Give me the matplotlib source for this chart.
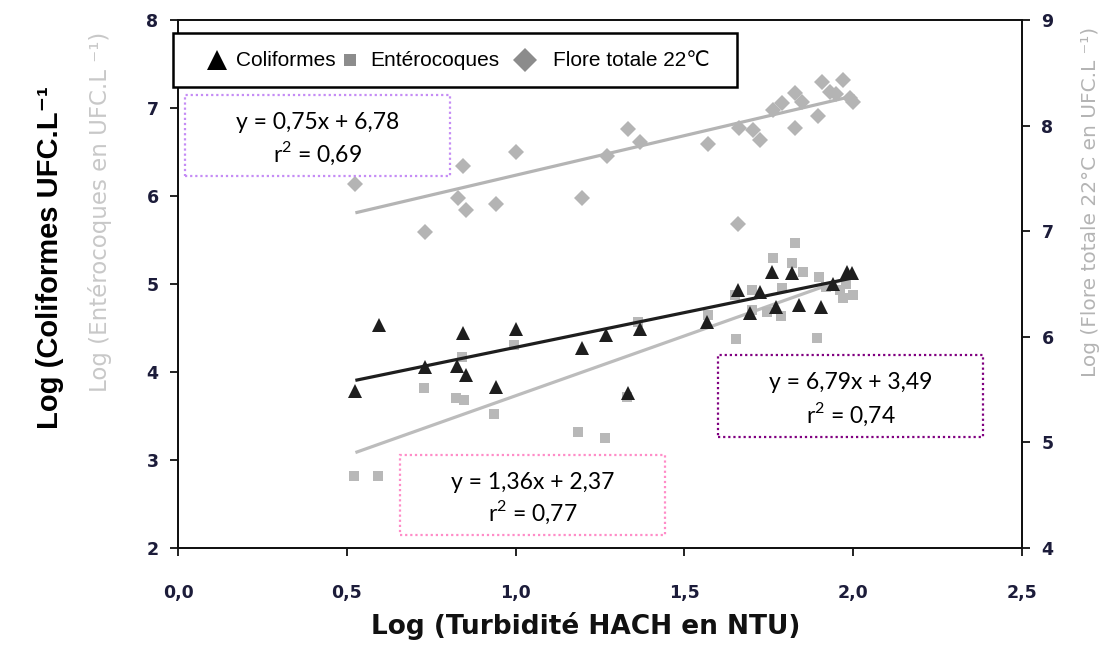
import matplotlib
matplotlib.use("Agg")
import matplotlib.pyplot as plt
from matplotlib.lines import Line2D
from matplotlib.patches import Rectangle
import numpy as np

# ---- data ----
coli_x = [0.524, 0.595, 0.732, 0.826, 0.853, 0.844, 0.942, 1.001, 1.197, 1.268, 1.333, 1.368,
          1.567, 1.659, 1.694, 1.724, 1.759, 1.771, 1.820, 1.840, 1.905, 1.940, 1.982, 1.995]
coli_y = [3.78, 4.53, 4.06, 4.07, 3.97, 4.44, 3.83, 4.49, 4.27, 4.42, 3.76, 4.49,
          4.57, 4.93, 4.67, 4.91, 5.14, 4.74, 5.12, 4.76, 4.74, 5.00, 5.14, 5.12]

ent_x = [0.521, 0.592, 0.729, 0.823, 0.847, 0.841, 0.936, 0.995, 1.185, 1.265, 1.330, 1.363,
         1.570, 1.650, 1.653, 1.700, 1.700, 1.745, 1.762, 1.786, 1.790, 1.820, 1.828, 1.850,
         1.893, 1.900, 1.920, 1.960, 1.970, 2.000, 1.980]
ent_y = [2.82, 2.82, 3.82, 3.71, 3.68, 4.17, 3.52, 4.31, 3.32, 3.25, 3.72, 4.57,
         4.65, 4.88, 4.38, 4.93, 4.70, 4.68, 5.30, 4.64, 4.95, 5.24, 5.47, 5.14,
         4.39, 5.08, 4.97, 4.93, 4.84, 4.87, 5.00]

flore_x = [0.524, 0.732, 0.829, 0.844, 0.853, 0.942, 1.001, 1.197, 1.271, 1.333, 1.368, 1.570,
           1.659, 1.662, 1.703, 1.724, 1.762, 1.789, 1.828, 1.848, 1.828, 1.896, 1.908, 1.931,
           1.970, 1.990, 2.000, 1.950]
flore_y = [7.45, 6.99, 7.31, 7.62, 7.20, 7.26, 7.75, 7.31, 7.71, 7.97, 7.84, 7.83,
           7.07, 7.98, 7.96, 7.86, 8.15, 8.21, 8.31, 8.22, 7.98, 8.09, 8.41, 8.32,
           8.43, 8.26, 8.22, 8.30]

# regression lines (slope, intercept)
coli_fit = (0.79, 3.49)
ent_fit = (1.36, 2.37)
flore_fit = (0.75, 6.78)
fit_range = (0.53, 2.0)

eq_flore = ["y = 0,75x + 6,78", "0,69"]
eq_ent = ["y = 1,36x + 2,37", "0,77"]
eq_coli = ["y = 6,79x + 3,49", "0,74"]

legend_labels = ["Coliformes", "Entérocoques", "Flore totale 22℃"]

x_ticks = [0.0, 0.5, 1.0, 1.5, 2.0, 2.5]
x_ticklabels = ["0,0", "0,5", "1,0", "1,5", "2,0", "2,5"]
yl_ticks = [2, 3, 4, 5, 6, 7, 8]
yr_ticks = [4, 5, 6, 7, 8, 9]

plt.rcParams["mathtext.fontset"] = "custom"
plt.rcParams["mathtext.rm"] = "Lato"

# ---- figure ----
W, H = 1116, 657
fig = plt.figure(figsize=(W / 100, H / 100), dpi=100)
L, R, T, B = 178, 1022, 20, 548
ax = fig.add_axes([L / W, 1 - B / H, (R - L) / W, (B - T) / H])
ax2 = ax.twinx()


def fx(px):
    return px / W


def fy(py):
    return 1 - py / H


tick_color = "#1c1c3a"
ax.set_xlim(0, 2.5)
ax.set_ylim(2, 8)
ax2.set_ylim(4, 9)
ax.set_xticks(x_ticks)
ax.set_xticklabels(x_ticklabels)
ax.set_yticks(yl_ticks)
ax2.set_yticks(yr_ticks)
for a in (ax, ax2):
    for s in a.spines.values():
        s.set_linewidth(1.3)
        s.set_color("#111111")
ax.tick_params(axis="both", direction="out", length=6, width=1.3, colors="#111111",
               labelcolor=tick_color, labelsize=12.5, pad=8)
ax2.tick_params(axis="y", direction="out", length=6, width=1.3, colors="#111111",
                labelcolor=tick_color, labelsize=12.5, pad=8)
for lab in ax.get_xticklabels() + ax.get_yticklabels() + ax2.get_yticklabels():
    lab.set_fontweight("bold")
ax.tick_params(axis="x", pad=20)

xs = np.array(fit_range)
# flore (right axis)
ax2.plot(xs, flore_fit[0] * xs + flore_fit[1], color="#b4b4b4", lw=2.3, zorder=2)
ax2.plot(flore_x, flore_y, linestyle="none", marker="D", markersize=8.5,
         color="#b4b4b4", markeredgewidth=0, zorder=3)
# enterocoques
ax.plot(xs, ent_fit[0] * xs + ent_fit[1], color="#bcbcbc", lw=2.3, zorder=2)
ax.plot(ent_x, ent_y, linestyle="none", marker="s", markersize=7.5,
        color="#b8b8b8", markeredgewidth=0, zorder=3)
# coliformes
ax.plot(coli_x, coli_y, linestyle="none", marker="^", markersize=10,
        color="#1e1e1e", markeredgewidth=0, zorder=4)
ax.plot(xs, coli_fit[0] * xs + coli_fit[1], color="#1e1e1e", lw=2.3, zorder=5)
ax.set_zorder(ax2.get_zorder() + 1)
ax.patch.set_visible(False)

# ---- axis labels ----
fig.text(fx(586), fy(626), "Log (Turbidité HACH en NTU)", fontsize=19, fontweight="bold",
         color="#111111", ha="center", va="center")
fig.text(fx(50), fy(258), "Log (Coliformes UFC.L⁻¹",
         rotation=90, ha="center", va="center", fontsize=21, fontweight="bold",
         family=["Liberation Sans", "DejaVu Sans"], color="#000000")
fig.text(fx(100), fy(212), "Log (Entérocoques en UFC.L ⁻¹)",
         rotation=90, ha="center", va="center", fontsize=16.5,
         color="#c8c8c8")
fig.text(fx(1090), fy(202), "Log (Flore totale 22°C en UFC.L ⁻¹)",
         rotation=90, ha="center", va="center", fontsize=14.5,
         color="#b4b4b4")

# ---- legend (drawn as a framed key) ----
fig.add_artist(Rectangle((fx(173), fy(87)), (737 - 173) / W, (87 - 33) / H,
                         transform=fig.transFigure, facecolor="white",
                         edgecolor="#000000", linewidth=1.8, zorder=30))
key_markers = [("^", 15, "#000000", 217), ("s", 9, "#8c8c8c", 350), ("D", 12, "#8c8c8c", 525)]
key_text_x = [236, 370, 553]
for (mk, ms, col, px), lab, tx in zip(key_markers, legend_labels, key_text_x):
    fig.add_artist(Line2D([fx(px)], [fy(60)], transform=fig.transFigure, linestyle="none",
                          marker=mk, markersize=ms, color=col, markeredgewidth=0, zorder=31))
    fig.text(fx(tx), fy(60), lab, ha="left", va="center", fontsize=15,
             family=["Liberation Sans", "DejaVu Sans"], color="#000000", zorder=31)

# ---- equation boxes ----
def eq_box(x0, y0, x1, y1, color, lines):
    rect = Rectangle((fx(x0), fy(y1)), (x1 - x0) / W, (y1 - y0) / H,
                     transform=fig.transFigure, fill=True, facecolor="white",
                     edgecolor=color, linestyle=(0, (1, 1.3)), linewidth=1.6, zorder=20)
    fig.add_artist(rect)
    cx = fx((x0 + x1) / 2)
    fig.text(cx, fy(y0 + 0.34 * (y1 - y0)), lines[0], ha="center", va="center",
             fontsize=16.5, family="Lato", zorder=21)
    fig.text(cx, fy(y0 + 0.72 * (y1 - y0)), "r$^2$ = " + lines[1], ha="center",
             va="center", fontsize=16.5, family="Lato", zorder=21)

eq_box(185, 95, 450, 176, "#c58cf5", eq_flore)
eq_box(400, 455, 665, 535, "#ff8cc8", eq_ent)
eq_box(718, 355, 983, 437, "#800080", eq_coli)

fig.savefig("out.png", dpi=100)
